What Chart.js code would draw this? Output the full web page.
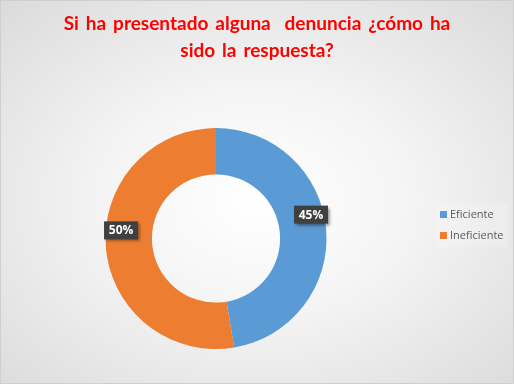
<!DOCTYPE html>
<html>
<head>
<meta charset="utf-8">
<script src="https://cdn.jsdelivr.net/npm/chart.js@4"></script>
<style>
  html, body { margin: 0; padding: 0; }
  #wrap {
    position: relative; width: 514px; height: 384px; box-sizing: border-box;
    border: 1px solid #cfcfcf;
    background: radial-gradient(ellipse 75% 75% at 50% 52%, #ffffff 0%, #f4f4f4 40%, #d9d9d9 100%);
    overflow: hidden;
  }
  #c { position: absolute; left: -1px; top: -1px; }
  #title {
    position: absolute; left: -1px; top: 8px; width: 514px; text-align: center;
    font-family: Lato, sans-serif; font-weight: bold; font-size: 19px; line-height: 27px;
    color: #FF0000; word-spacing: 2.3px; white-space: pre;
  }
  #legend {
    position: absolute; left: 434px; top: 202px; width: 73px; height: 44px;
    background: rgba(255,255,255,0.18);
    font-family: "Open Sans", Lato, sans-serif; font-size: 11px; color: #595959;
  }
  .item { position: absolute; left: 5px; height: 14px; line-height: 14px; white-space: nowrap; }
  .sw { display: inline-block; width: 7px; height: 7px; margin-right: 3px; vertical-align: 0px; }
</style>
</head>
<body>
<div id="wrap">
  <canvas id="c" width="514" height="384"></canvas>
  <div id="title"></div>
  <div id="legend"></div>
</div>
<script>
const titleLines = ["Si ha presentado alguna  denuncia ¿cómo ha", "sido la respuesta?"];
const categories = ["Eficiente", "Ineficiente"];
const values = [45, 50];
const valueLabels = ["45%", "50%"];
const colors = ["#5B9BD5", "#ED7D31"];

const labelPlugin = {
  id: 'boxLabels',
  afterDatasetsDraw(chart) {
    const ctx = chart.ctx;
    const meta = chart.getDatasetMeta(0);
    meta.data.forEach((arc, i) => {
      const p = arc.getProps(['x','y','startAngle','endAngle','innerRadius','outerRadius'], true);
      const mid = (p.startAngle + p.endAngle) / 2;
      const r = (p.innerRadius + p.outerRadius) / 2 + 8;
      const cx = p.x + Math.cos(mid) * r;
      const cy = p.y + Math.sin(mid) * r - 16;
      const w = 34, h = 18;
      ctx.save();
      ctx.shadowColor = 'rgba(0,0,0,0.45)';
      ctx.shadowBlur = 3;
      ctx.shadowOffsetX = 2;
      ctx.shadowOffsetY = 2;
      ctx.fillStyle = '#404040';
      ctx.fillRect(cx - w/2, cy - h/2, w, h);
      ctx.restore();
      ctx.save();
      ctx.fillStyle = '#ffffff';
      ctx.font = 'bold 12px "Open Sans", Lato, sans-serif';
      ctx.textAlign = 'center';
      ctx.textBaseline = 'middle';
      ctx.fillText(valueLabels[i], cx, cy + 0.5);
      ctx.restore();
    });
  }
};

new Chart(document.getElementById('c'), {
  type: 'doughnut',
  data: {
    labels: categories,
    datasets: [{
      data: values,
      backgroundColor: colors,
      borderWidth: 0,
      hoverOffset: 0,
      offset: 0
    }]
  },
  options: {
    responsive: false,
    animation: false,
    cutout: '58%',
    layout: { padding: { left: 0, right: 82, top: 128, bottom: 35 } },
    plugins: {
      legend: { display: false },
      tooltip: { enabled: false },
      title: { display: false }
    }
  },
  plugins: [labelPlugin]
});

document.getElementById('title').textContent = titleLines.join('\n');

const lg = document.getElementById('legend');
categories.forEach((name, i) => {
  const d = document.createElement('div');
  d.className = 'item';
  d.style.top = (4 + i * 21) + 'px';
  d.innerHTML = '<span class="sw" style="background:' + colors[i] + '"></span>' + name;
  lg.appendChild(d);
});
</script>
</body>
</html>
